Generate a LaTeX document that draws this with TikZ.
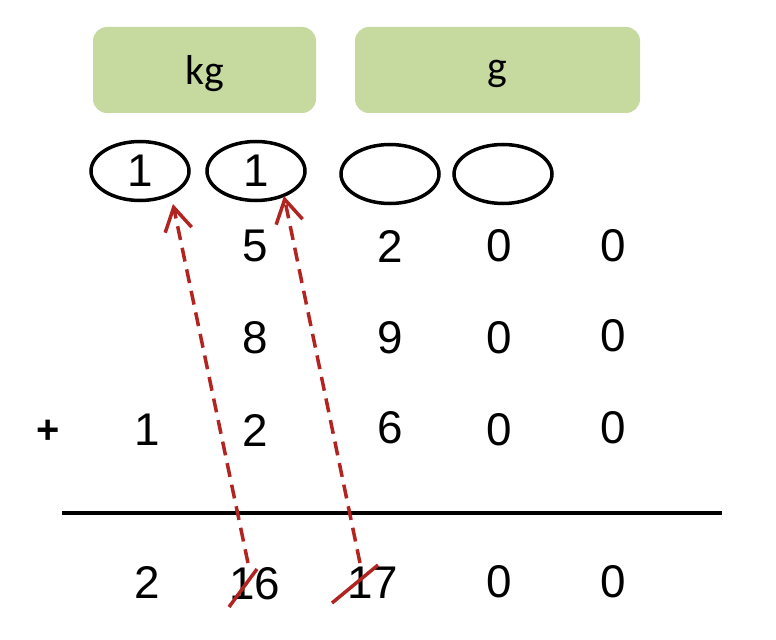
\documentclass[tikz,border=0pt]{standalone}
\usepackage{fontspec}
\setmainfont{Liberation Sans}
\newfontfamily\headfont{Carlito}
\usetikzlibrary{shapes.geometric,arrows.meta}
\definecolor{unitgreen}{RGB}{198,218,159}
\definecolor{carryred}{RGB}{178,36,32}

\begin{document}
\begin{tikzpicture}[x=1bp,y=-1bp,line cap=butt]
	\tikzstyle{unitbox}=[draw=none,fill=unitgreen,rounded corners=14bp];
	\tikzstyle{unit}=[font=\headfont\fontsize{42}{42}\selectfont];
	\tikzstyle{carry}=[ellipse,draw,line width=3.5bp,minimum width=98bp,minimum height=59bp,inner sep=0pt,font=\fontsize{46}{46}\selectfont];
	\tikzstyle{digit}=[inner sep=0pt,font=\fontsize{46}{46}\selectfont];
	\tikzstyle{carryarrow}=[carryred,line width=3.5bp,dash pattern=on 14bp off 8bp,-{Straight Barb[length=23bp,width=27bp,line width=3.5bp]}];
	\tikzstyle{strike}=[carryred,line width=3.5bp];

	\useasboundingbox (0,0) rectangle (776,640);

	% unit headers
	\draw[unitbox] (93,27) rectangle (316,113);
	\draw[unitbox] (355,27) rectangle (640,113);
	\node[unit] (kg) at (205,74) {kg};
	\node[unit] (g) at (497,74) {g};

	% carry ovals
	\node[carry] (c1) at (140,171) {1};
	\node[carry] (c2) at (256,171) {1};
	\node[carry] (c3) at (390,174) {};
	\node[carry] (c4) at (503,174) {};

	% addends
	\node[digit] (a2) at (255,246) {5};
	\node[digit] (a3) at (390,246) {2};
	\node[digit] (a4) at (499,246) {0};
	\node[digit] (a5) at (613,246) {0};

	\node[digit] (b2) at (255,338) {8};
	\node[digit] (b3) at (390,338) {9};
	\node[digit] (b4) at (499,338) {0};
	\node[digit] (b5) at (613,336) {0};

	\node[font=\bfseries\fontsize{40}{40}\selectfont,inner sep=0pt] (plus) at (48,432) {+};
	\node[digit] (d1) at (147,430) {1};
	\node[digit] (d2) at (255,430) {2};
	\node[digit] (d3) at (390,428) {6};
	\node[digit] (d4) at (499,430) {0};
	\node[digit] (d5) at (613,428) {0};

	\draw[line width=4bp] (62,513) -- (722,513);

	% sum
	\node[digit] (s1) at (147,582) {2};
	\node[digit] (s2) at (255,584) {16};
	\node[digit] (s3) at (373,583) {17};
	\node[digit] (s4) at (499,582) {0};
	\node[digit] (s5) at (613,582) {0};

	% carries
	\coordinate (t1) at (248,563);
	\coordinate (t2) at (360,563);
	\coordinate (h1) at (173,204);
	\coordinate (h2) at (284,196);
	\draw[carryarrow] (t1) -- (h1);
	\draw[carryarrow] (t2) -- (h2);
	\draw[strike] (229,607) -- (257,569);
	\draw[strike] (332,603) -- (378,565);
\end{tikzpicture}
\end{document}
